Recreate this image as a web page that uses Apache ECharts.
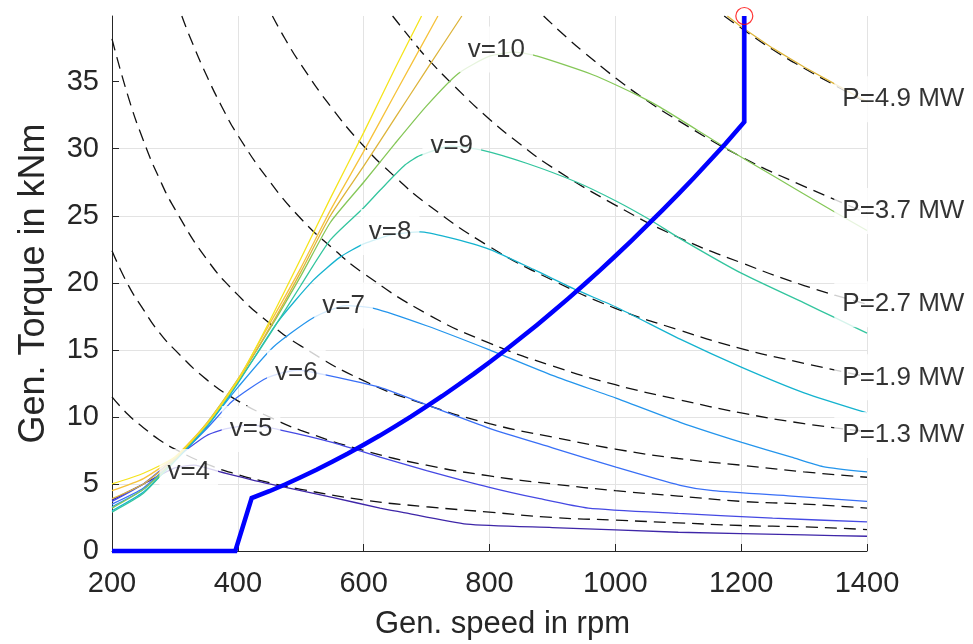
<!DOCTYPE html>
<html>
<head>
<meta charset="utf-8">
<title>Generator torque over speed</title>
<script src="https://cdn.jsdelivr.net/npm/echarts@6.0.0/dist/echarts.min.js"></script>
<style>
  html, body { margin: 0; padding: 0; background: #fff; }
  #chart { width: 973px; height: 644px; }
</style>
</head>
<body>
<div id="chart"></div>
<script>
// axis ticks
var xTicks = [200, 400, 600, 800, 1000, 1200, 1400];
var yTicks = [0, 5, 10, 15, 20, 25, 30, 35];

// rotor torque per wind speed, [rpm, kNm]
var v4 = [[200,3.8],[250,5.0],[300,6.2],[330,6.4],[372,5.9],[450,5.0],[550,4.0],[626,3.2],[660,2.9],[764,2.0],[900,1.75],[1100,1.4],[1300,1.2],[1400,1.1]];
var v5 = [[200,3.7],[250,5.0],[300,6.9],[350,8.6],[380,9.1],[420,9.4],[470,9.0],[550,8.1],[626,7.0],[700,6.0],[800,4.75],[880,3.9],[957,3.2],[1100,2.8],[1250,2.45],[1400,2.17]];
var v6 = [[200,3.5],[250,4.7],[300,6.8],[350,9.1],[392,11.2],[446,12.9],[495,13.5],[543,13.1],[626,12.2],[700,10.9],[800,9.15],[900,7.7],[1001,6.25],[1103,4.9],[1155,4.5],[1280,4.1],[1400,3.7]];
var v7 = [[200,3.3],[250,4.6],[300,6.8],[350,9.3],[400,12.2],[456,15.2],[520,17.4],[572,18.3],[616,18.1],[700,16.8],[800,15.0],[900,13.1],[1001,11.4],[1103,9.6],[1201,8.1],[1280,7.0],[1330,6.3],[1400,5.9]];
var v8 = [[200,3.0],[250,4.4],[300,6.7],[350,9.2],[400,12.5],[462,17.0],[520,20.2],[562,21.9],[600,22.9],[645,23.6],[690,23.8],[733,23.4],[800,22.5],[870,21.0],[939,19.45],[1001,18.2],[1103,15.8],[1201,13.7],[1300,11.8],[1400,10.3]];
var v9 = [[200,2.9],[250,4.3],[300,6.8],[350,9.4],[400,12.6],[450,16.1],[500,19.8],[547,23.2],[600,25.6],[626,26.9],[666,28.8],[690,29.5],[740,30.2],[788,29.9],[860,28.9],[939,27.5],[1001,26.1],[1055,24.7],[1103,23.3],[1201,20.7],[1300,18.5],[1349,17.4],[1400,16.25]];
var v10 = [[200,3.2],[250,4.6],[300,6.8],[350,9.5],[400,12.8],[450,16.5],[500,20.5],[547,24.5],[600,27.5],[650,30.4],[700,33.2],[750,35.6],[800,36.9],[840,37.2],[876,36.9],[965,35.5],[1035,34.0],[1071,33.1],[1178,30.0],[1250,28.0],[1348,25.3],[1400,23.9]];
var v11 = [[200,3.9],[250,5.0],[300,6.9],[350,9.4],[400,12.7],[450,16.6],[500,20.8],[547,25.0],[600,28.7],[650,32.3],[700,35.9],[756,39.9]];
var v11Rated = [[1178,39.9],[1200,39.1],[1250,37.5],[1300,36.1],[1350,34.8],[1400,33.5]];
var v12 = [[200,4.5],[250,5.4],[300,7.0],[350,9.5],[400,12.8],[450,16.9],[500,21.1],[547,25.4],[600,29.8],[650,34.1],[718,39.9]];
var v13 = [[200,5.0],[250,5.8],[300,7.0],[350,9.4],[400,12.7],[450,17.1],[500,21.8],[547,26.3],[600,31.2],[650,36.0],[692,39.9]];

var windCurves = [v4, v5, v6, v7, v8, v9, v10, v11, v12, v13];
var windColors = ["#3e26a8", "#4549e3", "#396ff6", "#2495ec", "#15b3cf", "#33c59e", "#85c758", "#ddb43a", "#f6c23a", "#f5e41c"];
var windLabels = ["v=4", "v=5", "v=6", "v=7", "v=8", "v=9", "v=10"];
var windLabelPos = [[322,5.9],[421,9.1],[493,13.3],[568,18.3],[642,23.8],[740,30.2],[811,37.4]];

// constant power lines, [rpm, kNm]
var p490 = [[1173,39.9],[1200,39.0],[1250,37.4],[1300,36.0],[1350,34.7],[1400,33.4]];
var p370 = [[886,39.9],[925,38.2],[950,37.2],[1000,35.3],[1050,33.6],[1100,32.1],[1200,29.4],[1300,27.2],[1400,25.2]];
var p270 = [[646,39.9],[675,38.2],[700,36.8],[750,34.4],[800,32.2],[850,30.3],[900,28.6],[1000,25.8],[1100,23.4],[1200,21.5],[1300,19.8],[1400,18.4]];
var p190 = [[455,39.9],[475,38.2],[500,36.3],[550,33.0],[600,30.2],[650,27.9],[700,25.9],[800,22.7],[900,20.2],[1000,18.1],[1100,16.5],[1200,15.1],[1300,14.0],[1400,13.0]];
var p130 = [[311,39.9],[325,38.2],[350,35.5],[375,33.1],[400,31.0],[450,27.6],[500,24.8],[550,22.6],[600,20.7],[700,17.7],[800,15.5],[900,13.8],[1000,12.4],[1100,11.3],[1200,10.3],[1300,9.5],[1400,8.9]];
var p080 = [[200,38.2],[225,34.0],[250,30.6],[275,27.8],[300,25.5],[350,21.8],[400,19.1],[450,17.0],[500,15.3],[600,12.7],[700,10.9],[800,9.5],[900,8.5],[1000,7.6],[1100,6.9],[1200,6.4],[1300,5.9],[1400,5.5]];
var p047 = [[200,22.4],[225,19.9],[250,18.0],[275,16.3],[300,15.0],[350,12.8],[400,11.2],[450,10.0],[500,9.0],[600,7.5],[700,6.4],[800,5.6],[900,5.0],[1000,4.5],[1100,4.1],[1200,3.7],[1300,3.5],[1400,3.2]];
var p024 = [[200,11.5],[225,10.2],[250,9.2],[275,8.3],[300,7.6],[350,6.5],[400,5.7],[450,5.1],[500,4.6],[600,3.8],[700,3.3],[800,2.9],[900,2.5],[1000,2.3],[1100,2.1],[1200,1.9],[1300,1.8],[1400,1.6]];

var powerCurves = [p490, p370, p270, p190, p130, p080, p047, p024];
var powerLabels = ["P=4.9 MW", "P=3.7 MW", "P=2.7 MW", "P=1.9 MW", "P=1.3 MW"];
var powerLabelPos = [[1348,33.7],[1348,25.35],[1348,18.4],[1348,12.95],[1348,8.65]];

// generator torque control curve
var ctrl = [[200,0],[396,0],[422,3.95],[450,4.46],[475,4.96],[500,5.5],[525,6.06],[550,6.66],[575,7.27],[600,7.92],[625,8.59],[650,9.3],[675,10.02],[700,10.78],[725,11.56],[750,12.38],[775,13.21],[800,14.08],[825,14.97],[850,15.9],[875,16.84],[900,17.82],[925,18.82],[950,19.86],[975,20.91],[1000,22.0],[1025,23.11],[1050,24.26],[1075,25.42],[1100,26.62],[1125,27.84],[1150,29.1],[1175,30.37],[1205,32.0],[1205,39.9]];
var ctrlEnd = [[1205,39.9]];

var FONT = "Liberation Sans, Arial, sans-serif";
var INK = "#262626";

var chart = echarts.init(document.getElementById("chart"), null, { renderer: "canvas" });

var series = [];
powerCurves.forEach(function (d) {
  series.push({
    type: "line", data: d, smooth: true, symbol: "none", silent: true, z: 2,
    lineStyle: { color: "#111", width: 1.3, type: [12, 7] }
  });
});
windCurves.forEach(function (d, i) {
  series.push({
    type: "line", data: d, smooth: 0.2, symbol: "none", silent: true, z: 3,
    lineStyle: { color: windColors[i], width: 1.3 }
  });
});
series.push({
  type: "line", data: v11Rated, symbol: "none", silent: true, z: 3,
  lineStyle: { color: windColors[7], width: 1.3 }
});
series.push({
  type: "line", data: ctrl, symbol: "none", silent: true, z: 5, clip: false,
  lineStyle: { color: "#0000ff", width: 4.5, join: "miter" }
});
series.push({
  type: "scatter", data: ctrlEnd, symbol: "circle", symbolSize: 17, silent: true, z: 6, clip: false,
  itemStyle: { color: "rgba(0,0,0,0)", borderColor: "#ff0000", borderWidth: 1.2 }
});
// text boxes with white background over the curves
series.push({
  type: "scatter", symbolSize: 0, silent: true, z: 10, clip: false,
  data: windLabelPos.map(function (p, i) { return { value: p, name: windLabels[i] }; }),
  label: {
    show: true, position: "inside", formatter: "{b}",
    fontFamily: FONT, fontSize: 26, color: "#000", lineHeight: 30,
    backgroundColor: "#fff", padding: [8, 8]
  }
});
series.push({
  type: "scatter", symbolSize: 0, silent: true, z: 10, clip: false,
  data: powerLabelPos.map(function (p, i) { return { value: p, name: powerLabels[i] }; }),
  label: {
    show: true, position: "right", distance: 0, formatter: "{b}",
    fontFamily: FONT, fontSize: 26, color: "#000", lineHeight: 30,
    backgroundColor: "#fff", padding: [8, 8]
  }
});

chart.setOption({
  backgroundColor: "#fff",
  animation: false,
  grid: { left: 112, right: 106, top: 16, bottom: 93, outerBoundsMode: "none", containLabel: false },
  xAxis: {
    type: "value", min: 200, max: 1400, interval: 200,
    name: "Gen. speed in rpm", nameLocation: "middle", nameGap: 58,
    nameTextStyle: { fontFamily: FONT, fontSize: 31, color: INK, padding: [0, 0, 0, 26] },
    axisLine: { show: true, onZero: false, lineStyle: { color: INK, width: 1 } },
    axisTick: { show: true, inside: true, length: 7, lineStyle: { color: INK } },
    axisLabel: {
      margin: 18, fontFamily: FONT, fontSize: 29, color: INK, customValues: xTicks,
      formatter: function (v) { return String(v); }
    },
    splitLine: { show: true, lineStyle: { color: "#e3e3e3", width: 1 } }
  },
  yAxis: {
    type: "value", min: 0, max: 39.9, interval: 5,
    name: "Gen. Torque in kNm", nameLocation: "middle", nameGap: 60,
    nameTextStyle: { fontFamily: FONT, fontSize: 36, color: INK },
    axisLine: { show: true, lineStyle: { color: INK, width: 1 } },
    axisTick: { show: true, inside: true, length: 7, lineStyle: { color: INK }, customValues: yTicks },
    axisLabel: { margin: 13, fontFamily: FONT, fontSize: 29, color: INK, customValues: yTicks },
    splitLine: { show: true, showMaxLine: false, lineStyle: { color: "#e3e3e3", width: 1 } }
  },
  series: series
});
</script>
</body>
</html>
